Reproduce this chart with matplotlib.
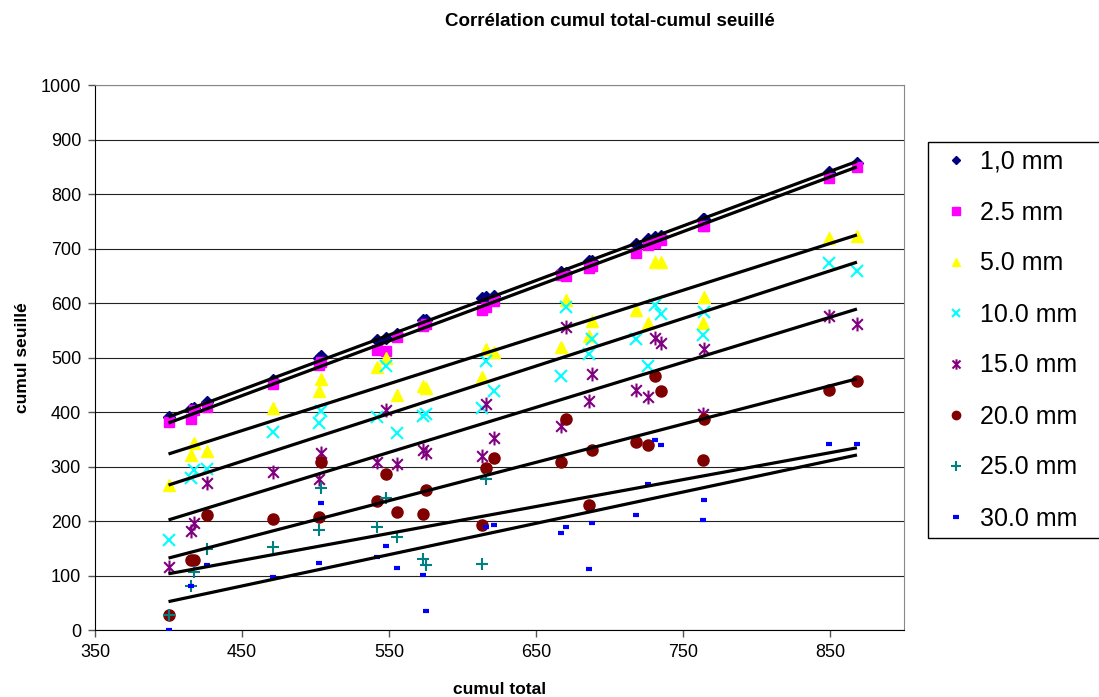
import numpy as np
import matplotlib.pyplot as plt
from matplotlib.path import Path

plt.rcParams['font.family'] = ['Liberation Sans', 'DejaVu Sans']

nan = np.nan

# cumul total of each sample (x)
cumul_total = [400, 415, 417, 426, 471, 502, 504, 542, 548, 555, 573, 575,
               613, 616, 621, 667, 670, 686, 688, 718, 726, 731, 735, 763, 764, 849, 868]

# cumul seuillé for each threshold (y)
s_1_0 = [390, 406, 408, 418, 458, 500, 502, 532, 535, 543, 568, 568, 610, 611,
         612, 657, 656, 678, 678, 708, 718, 722, 723, 755, 755, 840, 857]
s_2_5 = [382, 387, 403, 410, 452, 486, 492, 514, 512, 538, 558, 562, 588, 592,
         603, 651, 650, 665, 668, 691, 706, 710, 716, 741, 741, 829, 850]
s_5_0 = [266, 321, 343, 328, 408, 438, 461, 483, 499, 431, 447, 444, 464, 515,
         510, 519, 605, 539, 567, 587, 563, 675, 675, 563, 611, 719, 723]
s_10 = [165, 279, 294, 295, 363, 380, 402, 391, 484, 362, 393, 396, 407, 494,
        439, 466, 592, 506, 534, 534, 484, 596, 580, 541, 583, 673, 659]
s_15 = [116, 182, 196, 270, 290, 277, 325, 308, 404, 304, 330, 325, 319, 414,
        352, 374, 556, 420, 470, 440, 428, 536, 527, 396, 515, 576, 561]
s_20 = [28, 128, 128, 211, 204, 207, 308, 237, 286, 216, 213, 257, 193, 297,
        316, 308, 387, 229, 330, 345, 339, 466, 439, 312, 387, 440, 457]
s_25 = [28, 81, 106, 149, 152, 183, 261, 189, 242, 171, 130, 119, 121, 277,
        nan, nan, nan, nan, nan, nan, nan, nan, nan, nan, nan, nan, nan]
s_30 = [0, 81, nan, 119, 97, 123, 233, 134, 154, 113, 101, 35, nan, 189,
        193, 178, 189, 112, 196, 211, 268, 349, 339, 202, 238, 341, 341]

labels = ['1,0 mm', '2.5 mm', '5.0 mm', '10.0 mm', '15.0 mm', '20.0 mm', '25.0 mm', '30.0 mm']

# linear trend lines (slope, intercept) as shown on the chart
trend_slope = [1.002, 1.004, 0.859, 0.874, 0.827, 0.703, 0.494, 0.575]
trend_icept = [-9.8, -21.7, -20.6, -83.6, -128.8, -149.2, -94.4, -177.9]

series = [s_1_0, s_2_5, s_5_0, s_10, s_15, s_20, s_25, s_30]

# star marker: x with a vertical bar
star = Path([(-1, -1), (1, 1), (-1, 1), (1, -1), (0, -1.3), (0, 1.3)],
            [Path.MOVETO, Path.LINETO, Path.MOVETO, Path.LINETO, Path.MOVETO, Path.LINETO])

styles = [
    dict(marker='D', color='#000080', ms=6),
    dict(marker='s', color='#FF00FF', ms=7),
    dict(marker='^', color='#FFFF00', ms=8),
    dict(marker='x', color='#00FFFF', ms=8, mew=1.5),
    dict(marker=star, color='#800080', ms=10, mew=1.5),
    dict(marker='o', color='#800000', ms=8),
    dict(marker='+', color='#008080', ms=9, mew=1.5),
    dict(marker='_', color='#0000FF', ms=5, mew=3),
]

fig = plt.figure(figsize=(10.99, 6.97), dpi=100)
ax = fig.add_axes([0.0864, 0.0961, 0.7362, 0.7819])

x = np.array(cumul_total, dtype=float)
for ys, lab, st in zip(series, labels, styles):
    ax.plot(x, ys, linestyle='none', label=lab, zorder=3, **st)

xs = np.array([min(cumul_total), max(cumul_total)])
for a, b in zip(trend_slope, trend_icept):
    ax.plot(xs, a * xs + b, color='black', lw=2.3, zorder=4, solid_capstyle='butt')

ax.set_xlim(350, 900)
ax.set_ylim(0, 1000)
ax.set_xticks(np.arange(350, 851, 100))
ax.set_yticks(np.arange(0, 1001, 100))
ax.yaxis.grid(True, color='#222222', lw=0.8)
ax.set_axisbelow(True)
ax.tick_params(labelsize=13, length=5, width=1, color='#555555', pad=5)
for s in ['top', 'right']:
    ax.spines[s].set_color('#888888')
for s in ['left', 'bottom']:
    ax.spines[s].set_color('black')

ax.set_xlabel('cumul total', fontsize=12.5, fontweight='bold', labelpad=15)
ax.set_ylabel('cumul seuillé', fontsize=12.5, fontweight='bold', labelpad=8)

fig.text(610 / 1099, 1 - 22 / 697, 'Corrélation cumul total-cumul seuillé',
         ha='center', va='center', fontsize=13.5, fontweight='bold')

leg = fig.legend(loc='upper left',
                 bbox_to_anchor=(928 / 1099, 1 - 538 / 697, 190 / 1099, 396 / 697),
                 bbox_transform=fig.transFigure, mode='expand', borderaxespad=0,
                 fontsize=18, markerscale=0.75, handlelength=1.6, handletextpad=0.2,
                 labelspacing=1.08, borderpad=0.3, fancybox=False, framealpha=1,
                 edgecolor='black')
leg.get_frame().set_linewidth(1.0)

fig.savefig('out.png', dpi=100)
